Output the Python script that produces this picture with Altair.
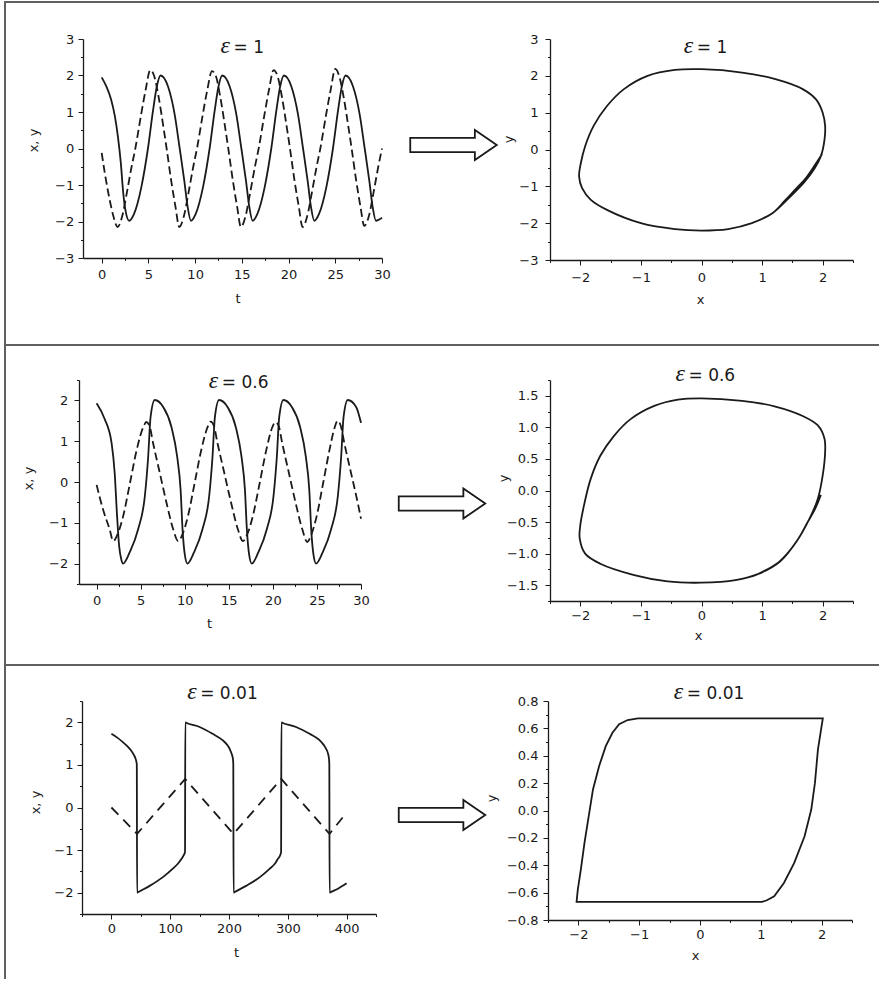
import altair as alt
import pandas as pd

# ---------------- epsilon = 1 ----------------
T1_T_X = [0.0, 0.5, 1.0, 1.4, 1.75, 2.05, 2.3, 2.55, 2.95,
          3.45, 4.25, 4.95, 5.5, 5.9, 6.3, 7.1, 7.8, 8.35, 8.85, 9.2, 9.55,
          10.05, 10.85, 11.55, 12.1, 12.5, 12.9, 13.7, 14.4, 14.95, 15.45, 15.8, 16.15,
          16.65, 17.45, 18.15, 18.7, 19.1, 19.5, 20.3, 21.0, 21.55, 22.05, 22.4, 22.75,
          23.25, 24.05, 24.75, 25.3, 25.7, 26.1, 26.9, 27.6, 28.15, 28.65, 29.0, 29.35, 30.0]
T1_X = [1.95, 1.7, 1.35, 0.9, 0.3, -0.4, -1.2, -1.7, -1.98,
        -1.8, -1.05, 0.0, 1.05, 1.7, 2.0, 1.7, 0.95, 0.0, -0.9, -1.6, -1.98,
        -1.8, -1.05, 0.0, 1.05, 1.7, 2.0, 1.7, 0.95, 0.0, -0.9, -1.6, -1.98,
        -1.8, -1.05, 0.0, 1.05, 1.7, 2.0, 1.7, 0.95, 0.0, -0.9, -1.6, -1.98,
        -1.8, -1.05, 0.0, 1.05, 1.7, 2.0, 1.7, 0.95, 0.0, -0.9, -1.6, -1.98, -1.9]
T1_T_Y = [0.0, 0.35, 0.85, 1.3, 1.7,
          2.2, 2.7, 3.2, 3.6, 4.2, 4.7, 5.2, 5.6, 6.1, 6.6, 6.95, 7.45, 7.9, 8.3,
          8.8, 9.3, 9.8, 10.2, 10.8, 11.3, 11.8, 12.2, 12.7, 13.2, 13.55, 14.05, 14.5, 14.9,
          15.4, 15.9, 16.4, 16.8, 17.4, 17.9, 18.4, 18.8, 19.3, 19.8, 20.15, 20.65, 21.1, 21.5,
          22.0, 22.5, 23.0, 23.4, 24.0, 24.5, 25.0, 25.4, 25.9, 26.4, 26.75, 27.25, 27.7, 28.1,
          28.6, 29.1, 29.6, 30.0]
T1_Y = [-0.12, -0.7, -1.4, -1.9, -2.15,
        -1.85, -1.2, -0.5, 0.0, 0.9, 1.6, 2.15, 2.0, 1.4, 0.6, 0.0, -0.9, -1.6, -2.15,
        -1.85, -1.2, -0.5, 0.0, 0.9, 1.6, 2.12, 2.0, 1.4, 0.6, 0.0, -0.9, -1.6, -2.15,
        -1.85, -1.2, -0.5, 0.0, 0.9, 1.6, 2.15, 2.0, 1.4, 0.6, 0.0, -0.9, -1.6, -2.15,
        -1.85, -1.2, -0.5, 0.0, 0.9, 1.6, 2.18, 2.0, 1.4, 0.6, 0.0, -0.9, -1.6, -2.12,
        -1.85, -1.2, -0.5, 0.0]
P1_X = [1.99, 1.88, 1.73, 1.55, 1.38, 1.17, 0.83, 0.44, 0.0, -0.44, -1.0, -1.56, -1.83,
        -1.97, -2.02, -1.99, -1.92, -1.78, -1.56, -1.28, -0.89, -0.44, 0.0, 0.67, 1.22,
        1.67, 1.89, 2.0, 2.04, 2.03, 1.97, 1.87, 1.70, 1.47, 1.17, 0.83]
P1_Y = [-0.12, -0.40, -0.76, -1.08, -1.38, -1.73, -2.0, -2.16, -2.2, -2.16, -2.0, -1.64, -1.36,
        -1.05, -0.73, -0.36, 0.09, 0.64, 1.18, 1.64, 2.0, 2.16, 2.18, 2.09, 1.91,
        1.64, 1.36, 1.0, 0.64, 0.27, -0.18, -0.5, -0.88, -1.27, -1.73, -2.0]

# ---------------- epsilon = 0.6 ----------------
T2_T_X = [0.0, 0.9, 1.7, 2.05, 2.32, 2.55, 2.8, 3.0,
          3.76, 4.71, 5.47, 5.85, 6.12, 6.6, 7.55, 8.49, 9.14, 9.53, 9.75, 10.02, 10.3,
          11.06, 12.01, 12.77, 13.15, 13.42, 13.9, 14.85, 15.79, 16.44, 16.83, 17.05, 17.32, 17.6,
          18.36, 19.31, 20.07, 20.45, 20.72, 21.2, 22.15, 23.09, 23.74, 24.13, 24.35, 24.62, 24.9,
          25.66, 26.61, 27.37, 27.75, 28.02, 28.5, 29.45, 30.0]
T2_X = [1.93, 1.55, 0.95, 0.22, -0.83, -1.56, -1.9, -2.0,
        -1.72, -1.16, -0.35, 0.62, 1.59, 2.01, 1.84, 1.35, 0.62, -0.19, -1.16, -1.8, -2.0,
        -1.72, -1.16, -0.35, 0.62, 1.59, 2.01, 1.84, 1.35, 0.62, -0.19, -1.16, -1.8, -2.0,
        -1.72, -1.16, -0.35, 0.62, 1.59, 2.01, 1.84, 1.35, 0.62, -0.19, -1.16, -1.8, -2.0,
        -1.72, -1.16, -0.35, 0.62, 1.59, 2.01, 1.84, 1.45]
T2_T_Y = [0.0, 0.72, 1.48, 1.88,
          2.38, 3.02, 3.78, 4.54, 5.3, 5.65, 6.0, 6.41, 7.17, 7.93, 8.69, 9.25,
          9.75, 10.37, 11.12, 11.87, 12.6, 12.95, 13.3, 13.72, 14.49, 15.26, 16.03, 16.6,
          17.1, 17.73, 18.5, 19.25, 19.95, 20.3, 20.65, 21.06, 21.82, 22.58, 23.34, 23.9,
          24.38, 24.98, 25.7, 26.42, 27.03, 27.35, 27.7, 28.11, 28.87, 29.63, 30.0]
T2_Y = [-0.07, -0.67, -1.16, -1.45,
        -1.28, -0.83, -0.03, 0.78, 1.35, 1.47, 1.38, 0.95, 0.22, -0.51, -1.16, -1.45,
        -1.28, -0.83, -0.03, 0.78, 1.35, 1.48, 1.38, 0.95, 0.22, -0.51, -1.16, -1.45,
        -1.28, -0.83, -0.03, 0.78, 1.35, 1.47, 1.38, 0.95, 0.22, -0.51, -1.16, -1.47,
        -1.28, -0.83, -0.03, 0.78, 1.35, 1.5, 1.38, 0.95, 0.22, -0.51, -0.9]
P2_X = [1.97, 1.87, 1.74, 1.60, 1.30, 0.94, 0.56, 0.0, -0.56, -1.11, -1.67, -1.92, -2.01,
        -2.0, -1.94, -1.83, -1.67, -1.44, -1.17, -0.78, -0.39, 0.0, 0.67, 1.22, 1.67,
        1.92, 2.03, 2.04, 2.0, 1.92, 1.78, 1.56, 1.28, 0.94]
P2_Y = [-0.07, -0.30, -0.52, -0.76, -1.12, -1.32, -1.42, -1.46, -1.44, -1.34, -1.16, -1.0, -0.76,
        -0.55, -0.24, 0.18, 0.55, 0.87, 1.13, 1.34, 1.44, 1.46, 1.42, 1.33, 1.18,
        1.03, 0.82, 0.61, 0.24, -0.13, -0.45, -0.82, -1.13, -1.32]

# ---------------- epsilon = 0.01 ----------------
T3_T_X = [0, 10, 19, 27, 33.5, 38, 41, 43.2, 43.7,
          45, 65, 87, 104, 113, 119, 123, 125.2, 125.7,
          127, 150, 172, 189, 197, 201, 204.5, 206.6, 207.3, 207.8,
          209, 229, 252, 269, 278, 283, 287, 288.6, 289.1,
          290.5, 314, 337, 354, 361, 365, 368.5, 370, 370.6, 371.1,
          372.5, 386, 400]
T3_X = [1.73, 1.64, 1.54, 1.44, 1.34, 1.24, 1.15, 1.02, -2.0,
        -1.99, -1.84, -1.64, -1.44, -1.32, -1.21, -1.12, -1.04, 2.0,
        1.99, 1.89, 1.73, 1.58, 1.47, 1.38, 1.26, 1.15, 1.02, -2.0,
        -1.99, -1.84, -1.64, -1.44, -1.32, -1.21, -1.12, -1.04, 2.0,
        1.99, 1.89, 1.73, 1.58, 1.47, 1.38, 1.26, 1.15, 1.02, -2.0,
        -1.99, -1.9, -1.78]
T3_T_Y = [0, 43.6, 125.5, 207.6, 288.9, 370.9, 400]
T3_Y = [0.0, -0.62, 0.67, -0.62, 0.67, -0.62, -0.12]
P3_X = [1.83, 1.72, 1.55, 1.38, 1.22, 1.10, 1.02, -2.03, -2.01, -1.96, -1.90, -1.83,
        -1.76, -1.66, -1.55, -1.44, -1.33, -1.19, -1.02, 2.02, 1.94, 1.89, 1.83]
P3_Y = [0.007, -0.188, -0.383, -0.529, -0.627, -0.656, -0.668, -0.668, -0.578, -0.432,
        -0.237, -0.041, 0.154, 0.324, 0.47, 0.568, 0.63, 0.661, 0.673, 0.673, 0.446, 0.20, 0.007]

# ---------------- tick values ----------------
T30_MAJOR = [0, 5, 10, 15, 20, 25, 30]
T30_MINOR = [2.5, 7.5, 12.5, 17.5, 22.5, 27.5]
T400_MAJOR = [0, 100, 200, 300, 400]
T400_MINOR = [-50, 50, 150, 250, 350, 450]
V3_MAJOR = [-3, -2, -1, 0, 1, 2, 3]
V3_MINOR = [-2.5, -1.5, -0.5, 0.5, 1.5, 2.5]
V25_MAJOR = [-2, -1, 0, 1, 2]
V25_MINOR = [-2.5, -1.5, -0.5, 0.5, 1.5, 2.5]
PX_MAJOR = [-2, -1, 0, 1, 2]
PX_MINOR = [-2.5, -1.5, -0.5, 0.5, 1.5, 2.5]
P2Y_MAJOR = [-1.5, -1.0, -0.5, 0.0, 0.5, 1.0, 1.5]
P2Y_MINOR = [-1.75, -1.25, -0.75, -0.25, 0.25, 0.75, 1.25, 1.75]
P3Y_MAJOR = [-0.8, -0.6, -0.4, -0.2, 0.0, 0.2, 0.4, 0.6, 0.8]
P3Y_MINOR = [-0.7, -0.5, -0.3, -0.1, 0.1, 0.3, 0.5, 0.7]

INK = "#1a1a1a"
FRAME = "#606060"
FONT = "DejaVu Sans"
ARROW_PATH = ("M -1 -0.166 L 0.494 -0.166 L 0.494 -0.347 L 1 0 "
              "L 0.494 0.347 L 0.494 0.166 L -1 0.166 Z")


def one_row(**cols):
    return pd.DataFrame({k: [v] for k, v in cols.items()})


def major_axis(orient, values, fmt, pad, title, tx, ty, offset=0):
    return alt.Axis(
        orient=orient, values=values, format=fmt, tickSize=5, offset=offset,
        labelPadding=pad, title=title, titleX=tx, titleY=ty,
        grid=False, labelFlush=False, labelOverlap=False,
        domainColor=INK, tickColor=INK, labelColor=INK, titleColor=INK,
        domainWidth=1.3, tickWidth=1,
        labelFont=FONT, labelFontSize=13,
        titleFont=FONT, titleFontSize=13, titleFontWeight="normal",
    )


def minor_axis(orient, values, offset=0):
    return alt.Axis(orient=orient, values=values, tickSize=2.5, tickWidth=1, offset=offset,
                    tickColor=INK, labels=False, domain=False, grid=False, title=None)


def frame_layers(x0, x1, top_y, bottom_y):
    top = alt.Chart(one_row(k=0)).mark_rect(color=FRAME).encode(
        x=alt.value(x0), x2=alt.value(x1), y=alt.value(top_y), y2=alt.value(top_y + 2))
    left = alt.Chart(one_row(k=0)).mark_rect(color=FRAME).encode(
        x=alt.value(x0), x2=alt.value(x0 + 2), y=alt.value(top_y), y2=alt.value(bottom_y))
    return [top, left]


def title_layers(eps_right, base_y, rest):
    eps = alt.Chart(one_row(s="ε")).mark_text(
        font="Liberation Serif", fontStyle="italic", fontSize=24, align="right",
        baseline="alphabetic", color=INK).encode(
        text="s:N", x=alt.value(eps_right), y=alt.value(base_y))
    tail = alt.Chart(one_row(s=rest)).mark_text(
        font=FONT, fontSize=17, align="left", baseline="alphabetic", color=INK).encode(
        text="s:N", x=alt.value(eps_right + 3.5), y=alt.value(base_y))
    return [eps, tail]


def arrow_layer(cx, cy):
    return alt.Chart(one_row(k=0)).mark_point(
        shape=ARROW_PATH, size=86.5 ** 2, filled=False, stroke=INK,
        strokeWidth=1.8, opacity=1).encode(x=alt.value(cx), y=alt.value(cy))


def time_panel(t_x, x_vals, t_y, y_vals, t_dom, v_dom, t_axis, v_axis, t_minor, v_minor,
               shift, dash, dash_interp, frame, title, size):
    # the plot area starts `shift` px right of the view edge, so the value axis moves in too
    sx = alt.Scale(domain=t_dom, nice=False, zero=False, range=[shift, size[0]])
    sy = alt.Scale(domain=v_dom, nice=False, zero=False)
    solid = alt.Chart(pd.DataFrame({"t": t_x, "v": x_vals})).mark_line(
        interpolate="monotone", color=INK, strokeWidth=1.8).encode(
        x=alt.X("t:Q", scale=sx, axis=t_axis),
        y=alt.Y("v:Q", scale=sy, axis=v_axis))
    dashed = alt.Chart(pd.DataFrame({"t": t_y, "v": y_vals})).mark_line(
        interpolate=dash_interp, color=INK, strokeWidth=1.8, strokeDash=dash).encode(
        x=alt.X("t:Q", scale=sx, axis=minor_axis("bottom", t_minor)),
        y=alt.Y("v:Q", scale=sy, axis=minor_axis("left", v_minor, -shift)))
    return (alt.layer(solid, dashed, *frame, *title)
            .resolve_axis(x="independent", y="independent")
            .properties(width=size[0], height=size[1]))


def phase_panel(px, py, interp, x_axis, y_axis, x_minor, y_minor, y_dom,
                arrow_pos, title, size):
    df = pd.DataFrame({"x": px, "y": py, "step": list(range(len(px)))})
    sx = alt.Scale(domain=[-2.5, 2.5], nice=False, zero=False)
    sy = alt.Scale(domain=y_dom, nice=False, zero=False)
    loop = alt.Chart(df).mark_line(interpolate=interp, color=INK, strokeWidth=1.8).encode(
        x=alt.X("x:Q", scale=sx, axis=x_axis),
        y=alt.Y("y:Q", scale=sy, axis=y_axis),
        order="step:Q")
    # transparent copy of the trajectory that carries the minor tick marks
    ghost = alt.Chart(df).mark_point(opacity=0, size=1).encode(
        x=alt.X("x:Q", scale=sx, axis=minor_axis("bottom", x_minor)),
        y=alt.Y("y:Q", scale=sy, axis=minor_axis("left", y_minor)))
    return (alt.layer(loop, ghost, arrow_layer(*arrow_pos), *title)
            .resolve_axis(x="independent", y="independent")
            .properties(width=size[0], height=size[1]))


# ---- row 1 : epsilon = 1 ----
left1 = time_panel(
    T1_T_X, T1_X, T1_T_Y, T1_Y, [-2, 30], [-3, 3],
    major_axis("bottom", T30_MAJOR, "d", 5, "t", 158.5, 34),
    major_axis("left", V3_MAJOR, "d", 4.3, "x, y", -42.5, 101, offset=-4),
    T30_MINOR, V3_MINOR, 4,
    [8, 4], "monotone", frame_layers(-75, 800, -38, 305),
    title_layers(151, 13.7, "= 1"), (303, 219))
right1 = phase_panel(
    P1_X, P1_Y, "catmull-rom",
    major_axis("bottom", PX_MAJOR, "d", 6.4, "x", 150, 33.5),
    major_axis("left", V3_MAJOR, "d", 7, "y", -35, 100),
    PX_MINOR, V3_MINOR,
    [-3, 3], (-96.5, 106), title_layers(143.3, 14.3, "= 1"), (303, 221))

# ---- row 2 : epsilon = 0.6 ----
left2 = time_panel(
    T2_T_X, T2_X, T2_T_Y, T2_Y, [-2, 30], [-2.5, 2.5],
    major_axis("bottom", T30_MAJOR, "d", 5.7, "t", 130, 33.7),
    major_axis("left", V25_MAJOR, "d", 6.3, "x, y", -43.2, 98),
    T30_MINOR, V25_MINOR, 0,
    [8, 4], "monotone", frame_layers(-75, 800, -36, 284),
    title_layers(139.3, 8.3, "= 0.6"), (282, 204))
right2 = phase_panel(
    P2_X, P2_Y, "catmull-rom",
    major_axis("bottom", PX_MAJOR, "d", 3.7, "x", 148, 28.7),
    major_axis("left", P2Y_MAJOR, ".1f", 7, "y", -39.2, 98),
    PX_MINOR, P2Y_MINOR,
    [-1.75, 1.75], (-108, 123.5), title_layers(135, 1, "= 0.6"), (303, 221))

# ---- row 3 : epsilon = 0.01 ----
left3 = time_panel(
    T3_T_X, T3_X, T3_T_Y, T3_Y, [-50, 450], [-2.5, 2.5],
    major_axis("bottom", T400_MAJOR, "d", 3.4, "t", 157, 32),
    major_axis("left", V25_MAJOR, "d", 4, "x, y", -39.5, 101, offset=-3),
    T400_MINOR, V25_MINOR, 3,
    [10, 7], "linear", frame_layers(-75, 800, -37, 278),
    title_layers(117.7, -1.7, "= 0.01"), (297, 213))
right3 = phase_panel(
    P3_X, P3_Y, "linear",
    major_axis("bottom", PX_MAJOR, "d", 3.7, "x", 147, 29.7),
    major_axis("left", P3Y_MAJOR, ".1f", 5, "y", -49.2, 97),
    PX_MINOR, P3Y_MINOR,
    [-0.8, 0.8], (-106, 114), title_layers(135.3, -1.7, "= 0.01"), (304, 219))

row1 = alt.hconcat(left1, right1, spacing=168, bounds="flush")
row2 = alt.hconcat(left2, right2, spacing=189, bounds="flush")
row3 = alt.hconcat(left3, right3, spacing=172, bounds="flush")

chart = (
    alt.vconcat(row1, row2, row3, spacing=0)
    .properties(padding={"left": 4, "top": 1, "right": 0, "bottom": 0})
    .configure_view(stroke=None)
)

chart.save("out.html", embed_options={"renderer": "svg", "actions": False})
